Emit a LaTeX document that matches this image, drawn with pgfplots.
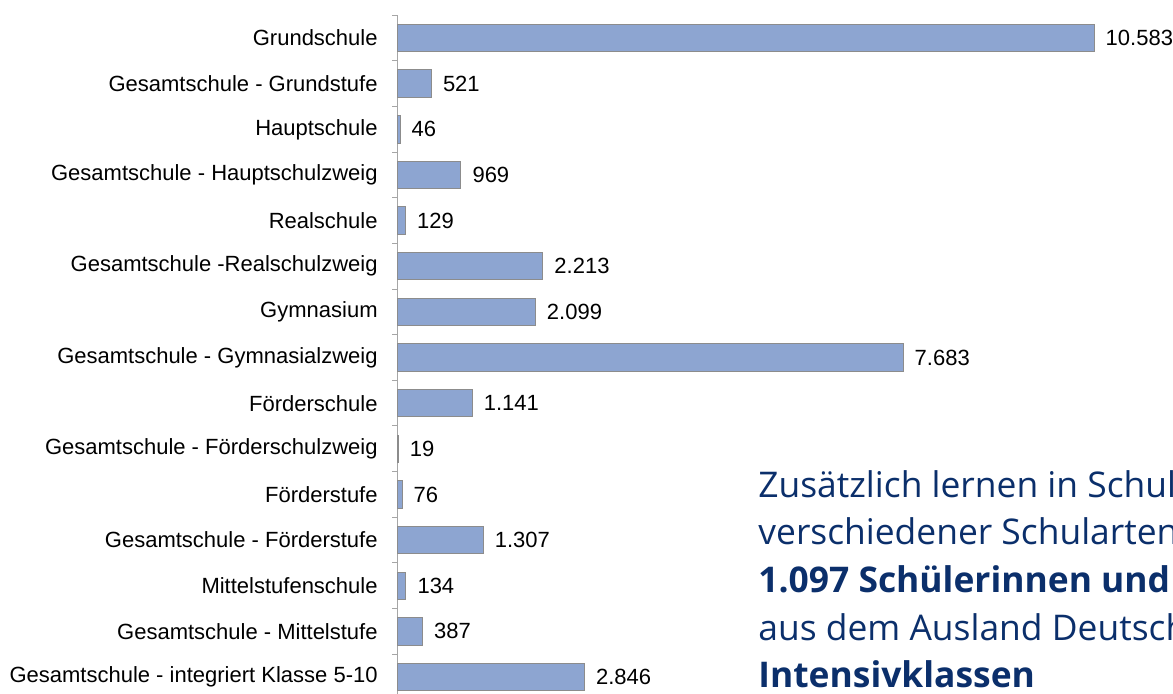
\documentclass[border=0pt]{standalone}
\usepackage{pgfplots}
\pgfplotsset{compat=1.18}
\usepackage{fontspec}
\setmainfont{Liberation Sans}
\newfontfamily\bluefont{Open Sans}
\definecolor{barfill}{HTML}{8DA5D1}
\definecolor{barline}{HTML}{8C8C8C}
\definecolor{axgray}{HTML}{A6A6A6}
\definecolor{navy}{HTML}{0B2F6B}
\begin{document}
\begin{tikzpicture}
\useasboundingbox (0pt,0pt) rectangle (586.5pt,-346.5pt);
\begin{scope}
\clip (0pt,0pt) rectangle (586.5pt,-346.5pt);
\begin{axis}[
  at={(198.5pt,-7.6pt)}, anchor=north west,
  scale only axis,
  width=378.7pt, height=342.3pt,
  xmin=0, xmax=11500,
  ymin=-0.5, ymax=14.5,
  y dir=reverse,
  axis x line=none,
  axis y line*=left,
  y axis line style={axgray, line width=0.5pt},
  xbar,
  bar width=13.7pt,
  ytick={0,...,14},
  yticklabels={Grundschule,Gesamtschule - Grundstufe,Hauptschule,Gesamtschule - Hauptschulzweig,Realschule,Gesamtschule -Realschulzweig,Gymnasium,Gesamtschule - Gymnasialzweig,Förderschule,Gesamtschule - Förderschulzweig,Förderstufe,Gesamtschule - Förderstufe,Mittelstufenschule,Gesamtschule - Mittelstufe,Gesamtschule - integriert Klasse 5-10},
  major tick length=0pt,
  minor ytick={-0.5,0.5,...,14.5},
  minor tick length=2.5pt,
  tick align=outside,
  minor tick style={axgray, line width=0.5pt},
  yticklabel style={font=\fontsize{11}{13}\selectfont, inner sep=0pt, xshift=-9.5pt, anchor=east},
  /pgf/number format/.cd, fixed, precision=0, 1000 sep={.}, assume math mode=true,
  /pgfplots/.cd,
  nodes near coords,
  every node near coord/.append style={anchor=west, inner sep=0pt, xshift=5.6pt, font=\fontsize{11}{13}\selectfont, black},
]
\addplot[fill=barfill, draw=barline, line width=0.5pt] coordinates {
(10583,0) (521,1) (46,2) (969,3) (129,4) (2213,5) (2099,6) (7683,7)
(1141,8) (19,9) (76,10) (1307,11) (134,12) (387,13) (2846,14)
};
\end{axis}
\node[anchor=base west, inner sep=0pt, align=left, text=navy,
  font=\bluefont\fontsize{17.7}{23.85}\selectfont] at (379pt,-343.9pt)
  {Zusätzlich lernen in Schulen\\verschiedener Schularten\\\textbf{1.097 Schülerinnen und Schüler}\\aus dem Ausland Deutsch in\\\textbf{Intensivklassen}};
\end{scope}
\end{tikzpicture}
\end{document}
